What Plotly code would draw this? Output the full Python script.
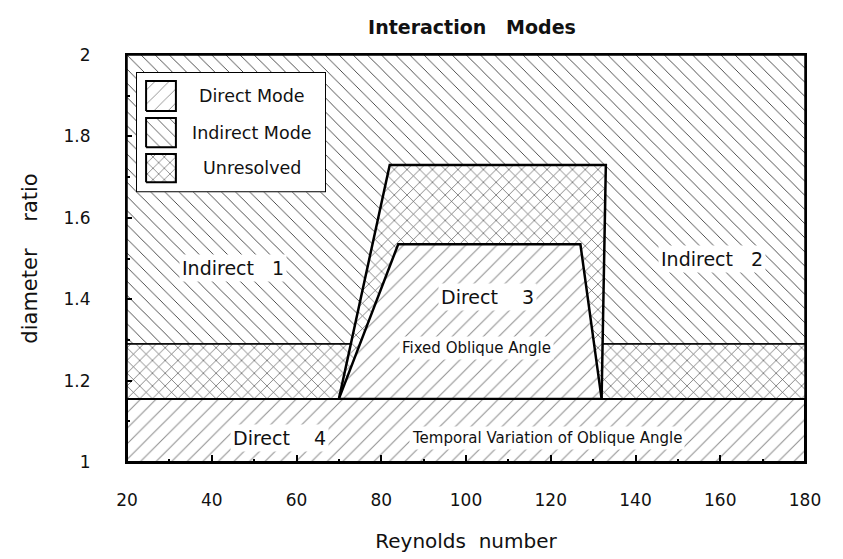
import plotly.graph_objects as go

# ---- data ----
re_min, re_max = 20, 180            # Reynolds number range
ratio_min, ratio_max = 1.0, 2.0     # diameter ratio range
direct4_top = 1.155                 # top of Direct 4 band
band_top = 1.29                     # top of lower Unresolved band
outer_x = [70, 82, 133, 132]        # Unresolved trapezoid
outer_y = [1.155, 1.73, 1.73, 1.155]
inner_x = [70, 84, 127, 132]        # Direct 3 trapezoid
inner_y = [1.155, 1.535, 1.535, 1.155]
x_ticks = [20, 40, 60, 80, 100, 120, 140, 160, 180]
y_ticks = [1, 1.2, 1.4, 1.6, 1.8, 2]
y_ticktext = ["1", "1.2", "1.4", "1.6", "1.8", "2"]
legend_names = ["Direct Mode", "Indirect Mode", "Unresolved"]

NB = "\u00a0"
labels = [
    ("Indirect" + NB * 3 + "1", 45, 1.477, 19),
    ("Indirect" + NB * 3 + "2", 158, 1.50, 19),
    ("Direct" + NB * 4 + "3", 105, 1.405, 19),
    ("Fixed Oblique Angle", 102.5, 1.28, 15),
    ("Direct" + NB * 4 + "4", 56, 1.06, 19),
    ("Temporal Variation of Oblique Angle", 119, 1.06, 15),
]

FONT = "DejaVu Sans, Liberation Sans, Arial, sans-serif"

pat_direct = dict(shape="/", fgcolor="#8c8c8c", bgcolor="white", size=11, solidity=0.09, fillmode="replace")
pat_indirect = dict(shape="\\", fgcolor="#3c3c3c", bgcolor="white", size=10, solidity=0.09, fillmode="replace")
pat_unres = dict(shape="x", fgcolor="#4a4a4a", bgcolor="white", size=9, solidity=0.14, fillmode="replace")
patterns = [pat_direct, pat_indirect, pat_unres]


def rect(x0, x1, y0, y1):
    return [x0, x1, x1, x0, x0], [y0, y0, y1, y1, y0]


def region(xs, ys, pat, width):
    return go.Scatter(x=xs, y=ys, fill="toself", mode="lines", fillcolor="white",
                      fillpattern=pat, line=dict(color="black", width=width),
                      showlegend=False, hoverinfo="skip")


fig = go.Figure()

# Indirect background
fig.add_trace(region(*rect(re_min, re_max, band_top, ratio_max), pat_indirect, 1.5))
# Lower unresolved band
fig.add_trace(region(*rect(re_min, re_max, direct4_top, band_top), pat_unres, 1.5))
# Unresolved trapezoid
fig.add_trace(region(outer_x + [outer_x[0]], outer_y + [outer_y[0]], pat_unres, 2.5))
# Direct 3 trapezoid
fig.add_trace(region(inner_x + [inner_x[0]], inner_y + [inner_y[0]], pat_direct, 2.5))
# Direct 4 band
fig.add_trace(region(*rect(re_min, re_max, ratio_min, direct4_top), pat_direct, 2))

for text, x, y, size in labels:
    fig.add_annotation(x=x, y=y, text=text, showarrow=False, bgcolor="white", borderpad=2,
                       font=dict(family=FONT, size=size, color="#111"))

# ---- legend box (drawn on a small overlay axis pair) ----
box_x, box_y = rect(0, 1, 0, 1)
fig.add_trace(go.Scatter(x=box_x, y=box_y, fill="toself", fillcolor="white", mode="lines",
                         line=dict(color="black", width=2), xaxis="x2", yaxis="y2",
                         showlegend=False, hoverinfo="skip"))
sw_x0, sw_x1 = 0.053, 0.21
sw_rows = [(0.675, 0.925), (0.375, 0.617), (0.083, 0.317)]
for name, pat, (y0, y1) in zip(legend_names, patterns, sw_rows):
    sx, sy = rect(sw_x0, sw_x1, y0, y1)
    fig.add_trace(go.Scatter(x=sx, y=sy, fill="toself", fillcolor="white", mode="lines",
                             fillpattern=dict(pat, size=pat["size"] - 1),
                             line=dict(color="black", width=2), xaxis="x2", yaxis="y2",
                             showlegend=False, hoverinfo="skip"))
    fig.add_annotation(x=0.61, y=(y0 + y1) / 2, xref="x2", yref="y2", text=name, showarrow=False,
                       font=dict(family=FONT, size=17.5, color="#111"))

fig.update_layout(
    width=843, height=559,
    margin=dict(l=119, r=46, t=47, b=105),
    paper_bgcolor="white", plot_bgcolor="white",
    title=dict(text="<b>Interaction" + NB * 3 + "Modes</b>", x=0.5504, xanchor="center", y=0.966,
               yanchor="middle", font=dict(family=FONT, size=19, color="#111")),
    font=dict(family=FONT, color="#111"),
    showlegend=False,
    xaxis=dict(range=[re_min, re_max], tickvals=x_ticks, ticks="inside", ticklen=7,
               tickwidth=1.5, tickcolor="black", showline=True, linecolor="black", linewidth=2,
               mirror=True, showgrid=False, zeroline=False, ticklabelstandoff=22,
               tickfont=dict(family=FONT, size=17, color="#111"),
               minor=dict(dtick=10, ticks="inside", ticklen=3, tickcolor="black"),
               title=dict(text="Reynolds" + NB * 2 + "number", font=dict(family=FONT, size=20, color="#111"),
                          standoff=25)),
    yaxis=dict(range=[ratio_min, ratio_max], tickvals=y_ticks, ticktext=y_ticktext, ticks="inside",
               ticklen=5, tickwidth=1.5, tickcolor="black", showline=True, linecolor="black",
               linewidth=2, mirror=True, showgrid=False, zeroline=False, ticklabelstandoff=31,
               tickfont=dict(family=FONT, size=17, color="#111"),
               minor=dict(dtick=0.1, ticks="inside", ticklen=3, tickcolor="black"),
               title=dict(text="diameter" + NB * 4 + "ratio", font=dict(family=FONT, size=21, color="#111"),
                          standoff=20)),
    xaxis2=dict(domain=[0.0133, 0.2935], range=[0, 1], visible=False, anchor="y2", fixedrange=True),
    yaxis2=dict(domain=[0.663, 0.958], range=[0, 1], visible=False, anchor="x2", fixedrange=True),
)

fig.write_html("out.html")
